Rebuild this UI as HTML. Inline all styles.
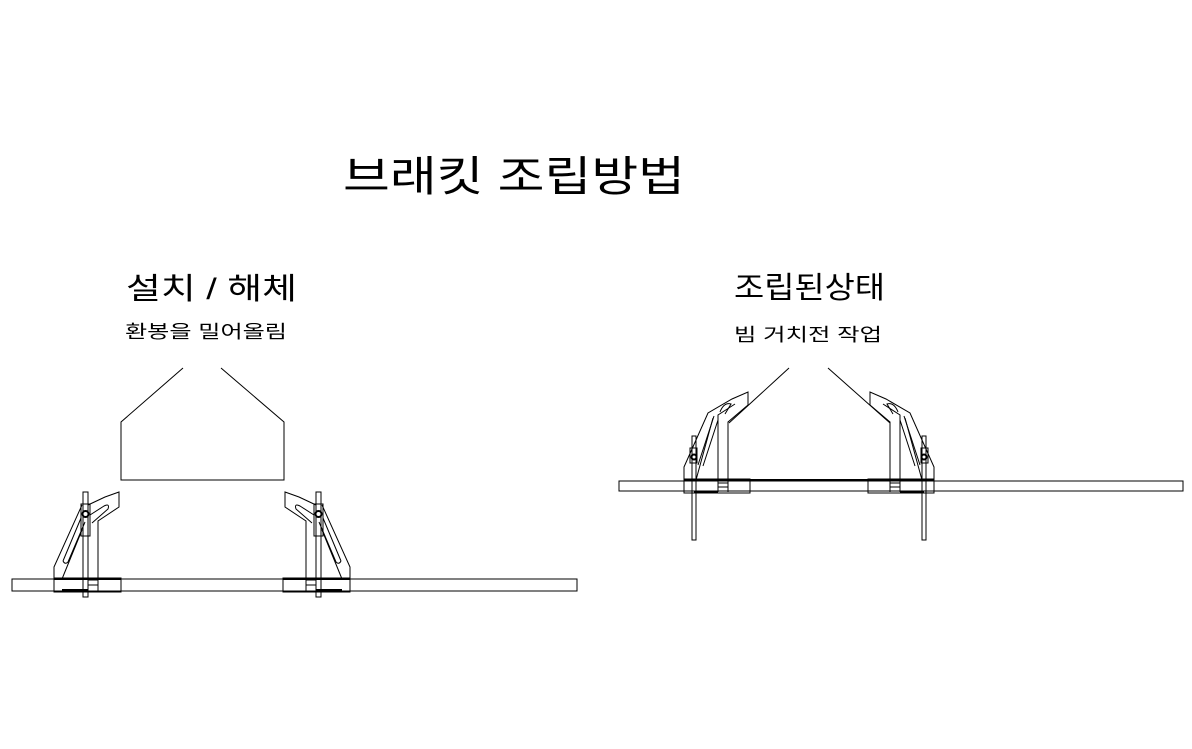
<!DOCTYPE html>
<html><head><meta charset="utf-8"><style>
body{margin:0;background:#fff;width:1192px;height:749px;overflow:hidden}
svg{position:absolute;left:0;top:0}
text{font-family:"Liberation Sans","Noto Sans CJK KR","NanumGothic",sans-serif;fill:#000}
</style></head><body>
<svg width="1192" height="749" viewBox="0 0 1192 749">
<defs>
<g id="brL" fill="none" stroke="#000" stroke-width="1">
  <rect x="83" y="492" width="5" height="105"/>
  <rect x="81" y="504" width="9" height="32"/>
  <circle cx="85.5" cy="514" r="3" stroke-width="2"/>
  <polyline points="88,505 105,497 119,492 119,507 98,521 98,579"/>
  <polyline points="54,579 54,567 82,505"/>
  <polyline points="62,579 82,530"/>
  <path d="M63,561 L81,518 M68,562 L85,522 M63,561 Q65,565 68,562"/>
  <path d="M90,515 L104,506 Q110,503 108,509 L92,523"/>
  <rect x="54" y="578" width="67" height="14"/>
  <line x1="54" y1="579" x2="121" y2="579" stroke-width="2"/>
  <line x1="62" y1="590" x2="88" y2="590" stroke-width="2"/>
  <rect x="88" y="580" width="10" height="5"/>
  <rect x="88" y="585" width="10" height="7"/>
</g>
<g id="brR" fill="none" stroke="#000" stroke-width="1">
  <rect x="692" y="436" width="4" height="104"/>
  <rect x="690" y="448" width="7" height="15"/>
  <circle cx="694" cy="457" r="2.5" stroke-width="2"/>
  <polyline points="684,492 684,467 708,413 732,399 748,392 748,405 728,422 728,492"/>
  <polyline points="718,492 718,415 735,404"/>
  <polyline points="696,480 713,418"/>
  <path d="M698,465 L714,416 M703,466 L718,420"/>
  <path d="M720,412 Q724,402 731,404 L725,414"/>
  <rect x="684" y="479" width="66" height="14"/>
  <line x1="684" y1="480" x2="750" y2="480" stroke-width="2"/>
  <line x1="694" y1="492" x2="718" y2="492" stroke-width="2"/>
  <rect x="718" y="483" width="10" height="4"/>
</g>
</defs>
<g fill="none" stroke="#000" stroke-width="1">
  <polyline points="183,368 121,422 121,480 284,480 284,422 221,368"/>
  <rect x="12" y="579" width="565" height="12"/>
  <use href="#brL"/>
  <use href="#brL" transform="translate(404,0) scale(-1,1)"/>
  <line x1="789" y1="368" x2="729" y2="423"/>
  <line x1="828" y1="368" x2="890" y2="423"/>
  <rect x="619" y="481" width="564" height="10"/>
  <line x1="684" y1="480" x2="934" y2="480" stroke-width="2"/>
  <use href="#brR"/>
  <use href="#brR" transform="translate(1618,0) scale(-1,1)"/>
</g>
<text x="343" y="191" font-size="42" textLength="342" lengthAdjust="spacingAndGlyphs">브래킷 조립방법</text>
<text x="126" y="299" font-size="30" textLength="171" lengthAdjust="spacingAndGlyphs">설치 / 해체</text>
<text x="125" y="338" font-size="18" textLength="162" lengthAdjust="spacingAndGlyphs">환봉을 밀어올림</text>
<text x="734" y="298" font-size="30" textLength="151" lengthAdjust="spacingAndGlyphs">조립된상태</text>
<text x="734" y="341" font-size="18" textLength="148" lengthAdjust="spacingAndGlyphs">빔 거치전 작업</text>
</svg>
</body></html>
